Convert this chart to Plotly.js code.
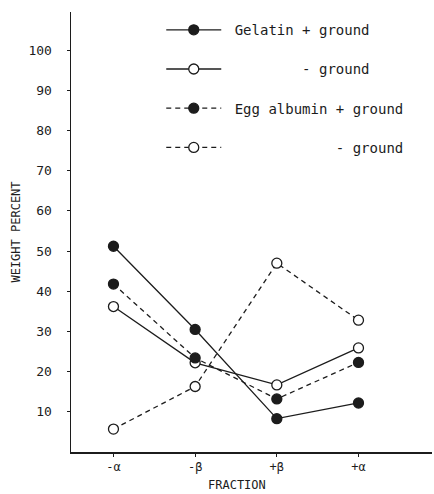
<!DOCTYPE html>
<html>
<head>
<meta charset="utf-8">
<script src="https://cdn.plot.ly/plotly-3.0.1.min.js"></script>
<style>html,body{margin:0;padding:0;background:#fff;}#chart{width:434px;height:494px;}</style>
</head>
<body>
<div id="chart"></div>
<script>
// Categories (fractions)
const fractions = ["-α", "-β", "+β", "+α"];
// Series values (weight percent)
const gelatinPlus = [51.2, 30.5, 8.3, 12.2];
const gelatinMinus = [36.2, 22.2, 16.7, 25.9];
const eggPlus = [41.8, 23.4, 13.2, 22.3];
const eggMinus = [5.7, 16.3, 47.0, 32.8];
// Legend labels
const names = [
  "\u00a0Gelatin + ground",
  "\u00a0\u00a0\u00a0\u00a0\u00a0\u00a0\u00a0\u00a0\u00a0- ground",
  "\u00a0Egg albumin + ground",
  "\u00a0\u00a0\u00a0\u00a0\u00a0\u00a0\u00a0\u00a0\u00a0\u00a0\u00a0\u00a0\u00a0- ground"
];
const yTicks = [10, 20, 30, 40, 50, 60, 70, 80, 90, 100];

const ink = "#1c1c1c";
const xIdx = fractions.map((_, i) => i);

function trace(y, name, filled, dashed, grp) {
  return {
    x: xIdx, y: y, name: name, type: "scatter", mode: "lines+markers",
    legendgroup: grp,
    line: {color: ink, width: 1.3, dash: dashed ? "5px,4px" : "solid"},
    marker: {size: 10, symbol: "circle", color: filled ? ink : "#ffffff",
             line: {color: ink, width: 1.3}},
    cliponaxis: false
  };
}

const data = [
  trace(gelatinPlus, names[0], true, false, "g1"),
  trace(gelatinMinus, names[1], false, false, "g2"),
  trace(eggPlus, names[2], true, true, "g3"),
  trace(eggMinus, names[3], false, true, "g4")
];

const mono = "DejaVu Sans Mono";
const layout = {
  width: 434, height: 494,
  margin: {l: 71, r: 2, t: 12, b: 42},
  paper_bgcolor: "#fff", plot_bgcolor: "#fff",
  font: {family: mono, color: ink, size: 12},
  showlegend: true,
  legend: {
    x: 0.25, xanchor: "left", y: 0.995, yanchor: "top",
    bgcolor: "rgba(0,0,0,0)", borderwidth: 0,
    font: {family: mono, size: 14, color: ink},
    itemwidth: 55,
    tracegroupgap: 18, traceorder: "grouped"
  },
  xaxis: {
    range: [-0.52, 3.9], tickmode: "array", tickvals: xIdx, ticktext: fractions,
    showgrid: false, zeroline: false, showline: true, linecolor: ink, linewidth: 1.5,
    ticks: "outside", ticklen: 3, tickcolor: ink, tickfont: {family: mono, size: 12}
  },
  yaxis: {
    range: [0, 109.5], tickmode: "array", tickvals: yTicks,
    showgrid: false, zeroline: false, showline: true, linecolor: ink, linewidth: 1.5,
    ticks: "outside", ticklen: 3, tickcolor: ink, tickfont: {family: mono, size: 13},
    ticklabelstandoff: 12,
    title: {text: "WEIGHT PERCENT", font: {family: mono, size: 12}, standoff: 5}
  },
  annotations: [{
    text: "FRACTION", xref: "paper", yref: "paper", x: 0.46, y: 0,
    yshift: -33, xanchor: "center", yanchor: "middle", showarrow: false,
    font: {family: mono, size: 12, color: ink}
  }]
};

Plotly.newPlot("chart", data, layout, {displayModeBar: false, staticPlot: true});
</script>
</body>
</html>
